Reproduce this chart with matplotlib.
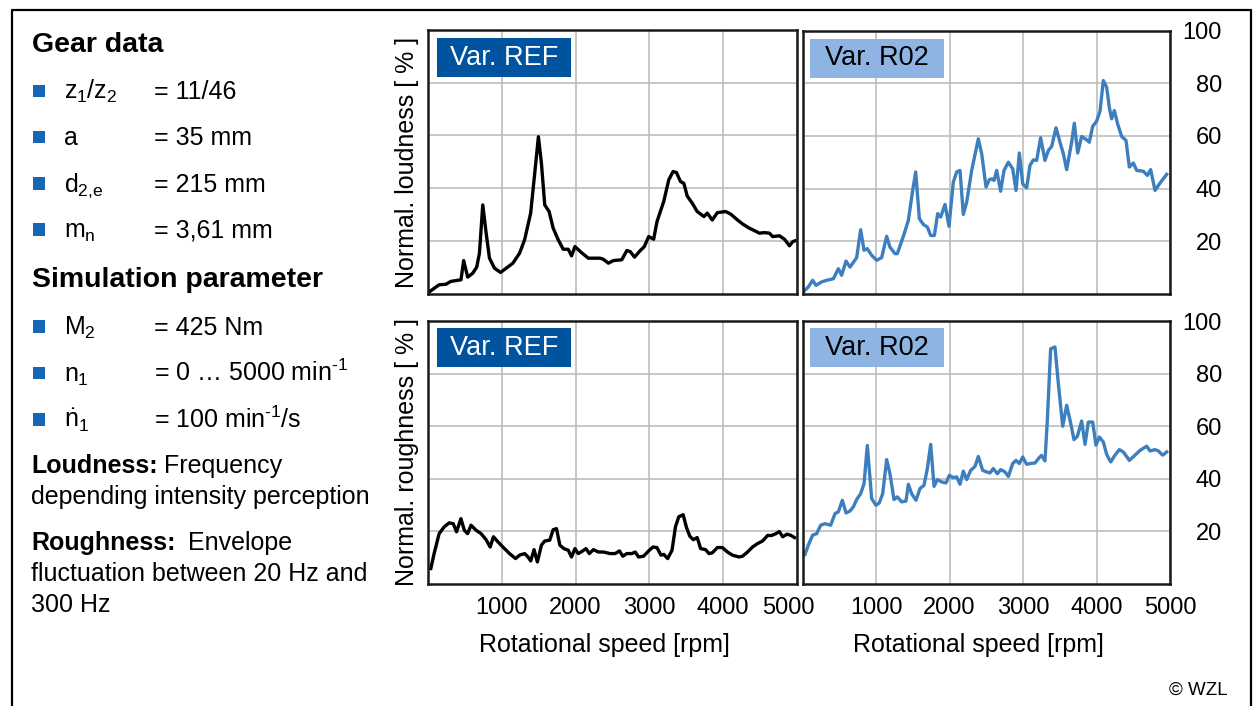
import matplotlib
matplotlib.use("Agg")
import matplotlib.pyplot as plt
from matplotlib.lines import Line2D
from matplotlib.patches import Rectangle
from matplotlib.transforms import ScaledTranslation

plt.rcParams["font.family"] = ["Liberation Sans", "DejaVu Sans"]
plt.rcParams["mathtext.fontset"] = "custom"
plt.rcParams["mathtext.rm"] = "Liberation Sans"
plt.rcParams["mathtext.it"] = "Liberation Sans"
plt.rcParams["mathtext.bf"] = "Liberation Sans:bold"

# --- measured curves (rpm, normalised value in %) ---
ref_loud_rpm = [6, 150, 242, 310, 447, 483, 538, 606, 660, 697, 742, 788, 833, 901, 983,
                1060, 1150, 1241, 1309, 1391, 1446, 1496, 1537, 1582, 1641, 1696, 1764,
                1832, 1900, 1945, 1991, 2081, 2172, 2240, 2331, 2376, 2444, 2512, 2626,
                2694, 2740, 2799, 2876, 2931, 2990, 3058, 3103, 3194, 3262, 3321, 3367,
                3421, 3467, 3512, 3580, 3648, 3739, 3784, 3852, 3921, 4034, 4103, 4194,
                4262, 4353, 4421, 4489, 4558, 4626, 4671, 4762, 4830, 4898, 4943, 4975]
ref_loud = [0.4, 3.3, 3.5, 4.6, 5.2, 12.5, 6.2, 7.7, 10.0, 15.3, 33.6, 22.9, 13.4, 9.6, 8.0,
            9.6, 11.5, 15.3, 20.4, 30.5, 45.6, 59.5, 49.4, 33.6, 31.1, 24.8, 20.4,
            16.8, 16.8, 14.3, 17.8, 15.5, 13.4, 13.4, 13.4, 13.0, 11.5, 12.5, 12.8,
            16.3, 15.9, 13.8, 16.3, 17.8, 21.6, 20.6, 27.3, 34.9, 43.1, 46.3, 45.9,
            42.5, 41.8, 37.0, 34.3, 31.1, 29.2, 30.5, 27.9, 30.7, 31.1, 30.1, 27.9,
            26.4, 24.8, 23.9, 22.9, 23.1, 22.9, 21.6, 21.9, 20.6, 18.1, 19.7, 20.0]

r02_loud_rpm = [11, 79, 138, 184, 261, 329, 420, 488, 533, 592, 646, 737, 791, 837, 882,
                941, 1009, 1077, 1145, 1190, 1259, 1290, 1372, 1440, 1499, 1540, 1590,
                1644, 1699, 1744, 1794, 1839, 1880, 1939, 1993, 2052, 2098, 2143, 2188,
                2234, 2302, 2392, 2438, 2497, 2542, 2574, 2606, 2642, 2696, 2742, 2801,
                2860, 2905, 2950, 2996, 3050, 3095, 3141, 3186, 3240, 3299, 3345, 3390,
                3449, 3503, 3549, 3594, 3662, 3698, 3744, 3798, 3866, 3902, 3948, 4002,
                4048, 4093, 4138, 4175, 4206, 4243, 4288, 4342, 4401, 4447, 4501, 4547,
                4637, 4692, 4737, 4796, 4864, 4955]
r02_loud = [0.8, 2.7, 5.2, 3.3, 4.6, 5.2, 5.8, 9.6, 7.1, 12.5, 10.2, 13.8, 24.4, 16.6, 17.2,
            14.7, 12.8, 13.8, 21.9, 17.8, 15.3, 15.3, 21.9, 27.9, 39.3, 46.3, 28.6,
            26.4, 25.4, 22.2, 22.2, 30.5, 29.2, 34.0, 25.7, 42.5, 46.3, 46.9, 30.2,
            34.9, 46.9, 58.9, 53.2, 40.6, 43.4, 43.7, 43.1, 46.9, 39.0, 46.9, 50.0,
            47.5, 39.3, 53.5, 41.8, 40.3, 48.8, 50.9, 50.7, 59.3, 50.7, 54.5, 56.0,
            63.1, 57.6, 53.2, 47.2, 57.6, 64.8, 53.5, 59.8, 58.5, 57.6, 63.6, 65.6,
            69.4, 81.0, 78.5, 70.7, 66.5, 69.6, 64.5, 59.8, 58.3, 48.2, 49.7, 46.9,
            46.6, 45.0, 47.2, 39.3, 42.1, 45.4]

ref_rough_rpm = [38, 83, 151, 220, 288, 342, 387, 446, 492, 537, 583, 651, 719, 787, 842,
                 887, 946, 1015, 1105, 1187, 1241, 1310, 1355, 1392, 1437, 1482, 1537,
                 1582, 1650, 1696, 1741, 1787, 1841, 1900, 1945, 1991, 2036, 2095, 2141,
                 2186, 2241, 2309, 2377, 2468, 2535, 2594, 2640, 2694, 2762, 2808, 2853,
                 2921, 2989, 3048, 3102, 3157, 3194, 3248, 3307, 3353, 3398, 3457, 3503,
                 3548, 3594, 3648, 3694, 3761, 3807, 3853, 3921, 3989, 4057, 4125, 4216,
                 4262, 4330, 4397, 4465, 4534, 4602, 4657, 4715, 4761, 4806, 4865, 4920,
                 4966]
ref_rough = [5.7, 11.4, 19.0, 21.6, 23.1, 22.8, 19.7, 24.7, 20.3, 19.0, 22.2, 20.3, 19.0,
             16.7, 13.9, 17.8, 15.9, 13.9, 11.4, 9.5, 10.8, 11.4, 10.1, 8.6, 12.9, 8.2,
             14.6, 16.2, 16.5, 20.5, 20.9, 14.6, 13.3, 12.7, 10.1, 13.3, 11.4, 12.4,
             13.3, 11.4, 12.9, 12.0, 12.0, 11.4, 11.4, 12.4, 10.4, 11.4, 11.4, 12.0,
             10.1, 10.4, 12.4, 13.9, 13.7, 10.8, 11.1, 9.5, 12.7, 21.6, 25.4, 26.2,
             21.3, 18.0, 16.7, 17.5, 13.3, 12.9, 11.4, 11.7, 13.7, 13.7, 12.0, 10.8,
             10.1, 10.4, 12.0, 13.9, 15.2, 16.2, 18.3, 18.3, 19.0, 19.8, 17.8, 18.8,
             18.3, 17.5]

r02_rough_rpm = [34, 79, 138, 193, 247, 306, 383, 442, 488, 542, 592, 646, 692, 737, 791,
                 837, 882, 941, 1000, 1045, 1091, 1145, 1190, 1245, 1290, 1349, 1408,
                 1440, 1485, 1544, 1599, 1653, 1699, 1744, 1790, 1835, 1893, 1952, 1998,
                 2052, 2098, 2143, 2188, 2234, 2288, 2347, 2392, 2451, 2506, 2551, 2596,
                 2651, 2696, 2755, 2801, 2860, 2905, 2950, 2996, 3050, 3095, 3163, 3220,
                 3252, 3299, 3331, 3376, 3435, 3481, 3540, 3594, 3640, 3694, 3740, 3798,
                 3844, 3889, 3948, 3993, 4039, 4093, 4138, 4193, 4252, 4311, 4365, 4447,
                 4524, 4592, 4683, 4728, 4796, 4841, 4900, 4955]
r02_rough = [11.1, 14.6, 18.4, 19.0, 22.2, 22.8, 22.2, 26.6, 27.3, 31.7, 26.9, 27.6, 29.2,
             32.0, 34.2, 38.0, 52.6, 32.3, 29.8, 30.7, 34.2, 47.2, 41.8, 32.0, 33.0,
             31.1, 31.4, 37.8, 34.2, 31.7, 36.2, 37.4, 43.8, 53.0, 37.0, 39.6, 38.7,
             38.3, 41.2, 40.3, 40.6, 37.8, 42.8, 39.6, 43.1, 44.6, 48.4, 43.1, 42.5,
             42.1, 43.8, 41.8, 43.4, 42.5, 40.8, 45.7, 46.9, 45.7, 48.2, 45.4, 45.7,
             45.9, 47.9, 48.8, 46.7, 62.2, 89.4, 90.1, 76.1, 59.9, 67.9, 62.2, 54.8,
             56.1, 61.9, 53.0, 61.5, 61.5, 52.7, 55.8, 53.9, 49.2, 46.3, 48.9, 51.0,
             50.1, 46.9, 48.9, 50.7, 52.3, 50.5, 51.0, 50.5, 48.9, 50.1]

x_ticks = [1000, 2000, 3000, 4000, 5000]
y_ticks = [20, 40, 60, 80, 100]

gear_rows = [(r"$z_1/z_2$", "= 11/46"), ("a", "= 35 mm"),
             (r"$d_{2,\!e}$", "= 215 mm"), (r"$m_n$", "= 3,61 mm")]
sim_rows = [(r"$M_2$", "= 425 Nm"),
            (r"$n_1$", "= 0 \u2026 5000 min" + r"$^{\text{-}1}$"),
            (r"$\dot{n}_1$", "= 100 min" + r"$^{\text{-}1}$/s")]

DARK_BLUE = "#00549F"
LIGHT_BLUE = "#8DB4E2"
LINE_BLUE = "#3D7EBF"
BULLET = "#1566B6"
GRID = "#BDBDBD"

W, H = 1256, 706
fig = plt.figure(figsize=(W / 100, H / 100), dpi=100)


def fx(x):
    return x / W


def fy(y):
    return 1 - y / H


def make_axes(left, top, right, bottom):
    ax = fig.add_axes([fx(left), fy(bottom), (right - left) / W, (bottom - top) / H])
    ax.set_xlim(0, 5000)
    ax.set_ylim(0, 100)
    ax.set_xticks(x_ticks)
    ax.set_yticks(y_ticks)
    ax.grid(True, color=GRID, linewidth=1.2)
    ax.set_axisbelow(True)
    for sp in ax.spines.values():
        sp.set_linewidth(1.8)
        sp.set_color("#1a1a1a")
    ax.tick_params(length=0, labelleft=False, labelbottom=False, labelsize=17)
    return ax


def tag(left, top, text, face, color):
    fig.add_artist(Rectangle((fx(left), fy(top + 39)), 134 / W, 39 / H,
                             facecolor=face, edgecolor="none", zorder=5))
    fig.text(fx(left + 67), fy(top + 19.5), text, ha="center", va="center",
             fontsize=19.5, color=color, zorder=6)


ax_tl = make_axes(428, 30, 797, 293.5)
ax_tr = make_axes(802.5, 30.5, 1170, 294)
ax_bl = make_axes(428, 321, 797, 583.5)
ax_br = make_axes(802.5, 321, 1170, 583.5)

ax_tl.plot(ref_loud_rpm, ref_loud, color="black", lw=2.4)
ax_tr.plot(r02_loud_rpm, r02_loud, color=LINE_BLUE, lw=2.4)
ax_bl.plot(ref_rough_rpm, ref_rough, color="black", lw=2.4)
ax_br.plot(r02_rough_rpm, r02_rough, color=LINE_BLUE, lw=2.4)

for ax in (ax_bl, ax_br):
    ax.tick_params(axis="x", labelbottom=True, pad=9.5)
for ax in (ax_tr, ax_br):
    ax.tick_params(axis="y", labelright=True, pad=37.4)
    for t in ax.yaxis.get_major_ticks():
        t.label2.set_horizontalalignment("right")

# nudge the last label of the left panel so it clears the neighbouring axes
last = ax_bl.xaxis.get_major_ticks()[-1].label1
last.set_transform(last.get_transform() + ScaledTranslation(-9 / 100, 0, fig.dpi_scale_trans))

tag(436.7, 38.3, "Var. REF", DARK_BLUE, "white")
tag(810, 38.7, "Var. R02", LIGHT_BLUE, "black")
tag(436.7, 328.5, "Var. REF", DARK_BLUE, "white")
tag(810, 328.5, "Var. R02", LIGHT_BLUE, "black")

fig.text(fx(407), fy(162), "Normal. loudness [ % ]", rotation=90,
         ha="center", va="center", fontsize=18)
fig.text(fx(407), fy(452), "Normal. roughness [ % ]", rotation=90,
         ha="center", va="center", fontsize=18)
fig.text(fx(604.5), fy(652), "Rotational speed [rpm]", ha="center",
         va="baseline", fontsize=18)
fig.text(fx(978), fy(652), "Rotational speed [rpm]", ha="center",
         va="baseline", fontsize=18)
fig.text(fx(1228), fy(695), "\u00a9 WZL", ha="right", va="baseline", fontsize=13.5)

# outer frame, open at the bottom
fig.add_artist(Line2D([fx(12), fx(12), fx(1250.5), fx(1250.5)],
                      [fy(720), fy(10), fy(10), fy(720)],
                      color="black", lw=1.6))

# left column: parameter list
fig.text(fx(31.5), fy(52), "Gear data", fontweight="bold", fontsize=20.5, va="baseline")
fig.text(fx(31.5), fy(287), "Simulation parameter", fontweight="bold",
         fontsize=20.5, va="baseline")


def param_rows(rows, first_base):
    for i, (name, value) in enumerate(rows):
        base = first_base + i * 46.3
        fig.add_artist(Rectangle((fx(32.5), fy(base - 2)), 12.5 / W, 12.5 / H,
                                 facecolor=BULLET, edgecolor="none"))
        fig.text(fx(64), fy(base), name, fontsize=18, va="baseline")
        fig.text(fx(154), fy(base), value, fontsize=18, va="baseline")


param_rows(gear_rows, 99)
param_rows(sim_rows, 335)

renderer = fig.canvas.get_renderer()


def bold_lead(x, base, lead, rest, gap):
    t = fig.text(fx(x), fy(base), lead, fontweight="bold", fontsize=18, va="baseline")
    x1 = t.get_window_extent(renderer).x1
    fig.text(x1 / W + gap / W, fy(base), rest, fontsize=18, va="baseline")


bold_lead(31, 473, "Loudness:", "Frequency", 6)
fig.text(fx(31), fy(504), "depending intensity perception", fontsize=18, va="baseline")
bold_lead(31, 550, "Roughness:", "Envelope", 13)
fig.text(fx(31), fy(581), "fluctuation between 20 Hz and", fontsize=18, va="baseline")
fig.text(fx(31), fy(612), "300 Hz", fontsize=18, va="baseline")

fig.savefig("out.png", dpi=100)
